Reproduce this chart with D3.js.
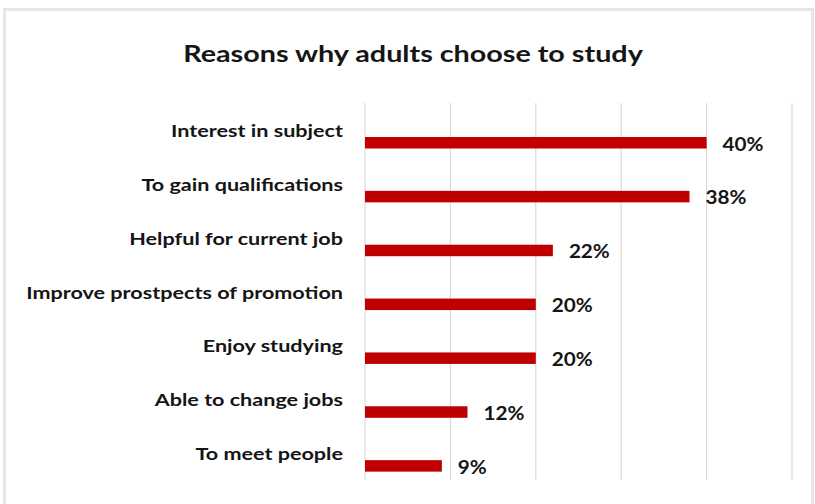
<!DOCTYPE html>
<html>
<head>
<meta charset="utf-8">
<script src="https://cdn.jsdelivr.net/npm/d3@7"></script>
<style>
  body { margin: 0; background: #fff; }
  text { font-family: Lato, "Open Sans", sans-serif; font-weight: bold; fill: #151515; }
</style>
</head>
<body>
<div id="chart"></div>
<script>
// Data
const reasons = [
    'Interest in subject',
    'To gain qualifications',
    'Helpful for current job',
    'Improve prostpects of promotion',
    'Enjoy studying',
    'Able to change jobs',
    'To meet people'
];
const percents = [40, 38, 22, 20, 20, 12, 9];
const gridTicks = [0, 10, 20, 30, 40, 50];

const data = reasons.map((r, i) => ({ reason: r, value: percents[i] }));

const width = 815;
const height = 504;

const svg = d3.select('#chart').append('svg')
    .attr('width', width)
    .attr('height', height);

// Frame (soft grey border, open at the bottom)
svg.append('rect')
    .attr('x', 4.5)
    .attr('y', 9.5)
    .attr('width', 808)
    .attr('height', 520)
    .attr('fill', 'none')
    .attr('stroke', '#e6e6e6')
    .attr('stroke-width', 3);

// Title (the source picture is stretched sideways, so the text is too)
svg.append('text')
    .attr('transform', 'translate(413,62) scale(1.25,1)')
    .attr('text-anchor', 'middle')
    .style('font-size', '23px')
    .text('Reasons why adults choose to study');

// Scales
const xScale = d3.scaleLinear()
    .domain([0, 50])
    .range([365, 792]);

const yScale = d3.scaleBand()
    .domain(reasons)
    .range([103, 480]);

// Gridlines
svg.append('g')
    .selectAll('line')
    .data(gridTicks)
    .enter()
    .append('line')
    .attr('x1', d => xScale(d))
    .attr('x2', d => xScale(d))
    .attr('y1', 103)
    .attr('y2', 480)
    .attr('stroke', '#dadada')
    .attr('stroke-width', 1.2);

// Bars
svg.selectAll('rect.bar')
    .data(data)
    .enter()
    .append('rect')
    .attr('class', 'bar')
    .attr('fill', '#c00000')
    .attr('x', xScale(0))
    .attr('y', d => yScale(d.reason) + 34)
    .attr('width', d => xScale(d.value) - xScale(0))
    .attr('height', 11.5);

// Category labels
svg.selectAll('text.cat')
    .data(data)
    .enter()
    .append('text')
    .attr('class', 'cat')
    .attr('transform', d => `translate(343,${yScale(d.reason) + 34}) scale(1.27,1)`)
    .attr('text-anchor', 'end')
    .style('font-size', '17px')
    .text(d => d.reason);

// Value labels
svg.selectAll('text.val')
    .data(data)
    .enter()
    .append('text')
    .attr('class', 'val')
    .attr('transform', d => `translate(${xScale(d.value) + 16},${yScale(d.reason) + 47.5}) scale(1.15,1)`)
    .style('font-size', '18px')
    .text(d => d.value + '%');
</script>
</body>
</html>
